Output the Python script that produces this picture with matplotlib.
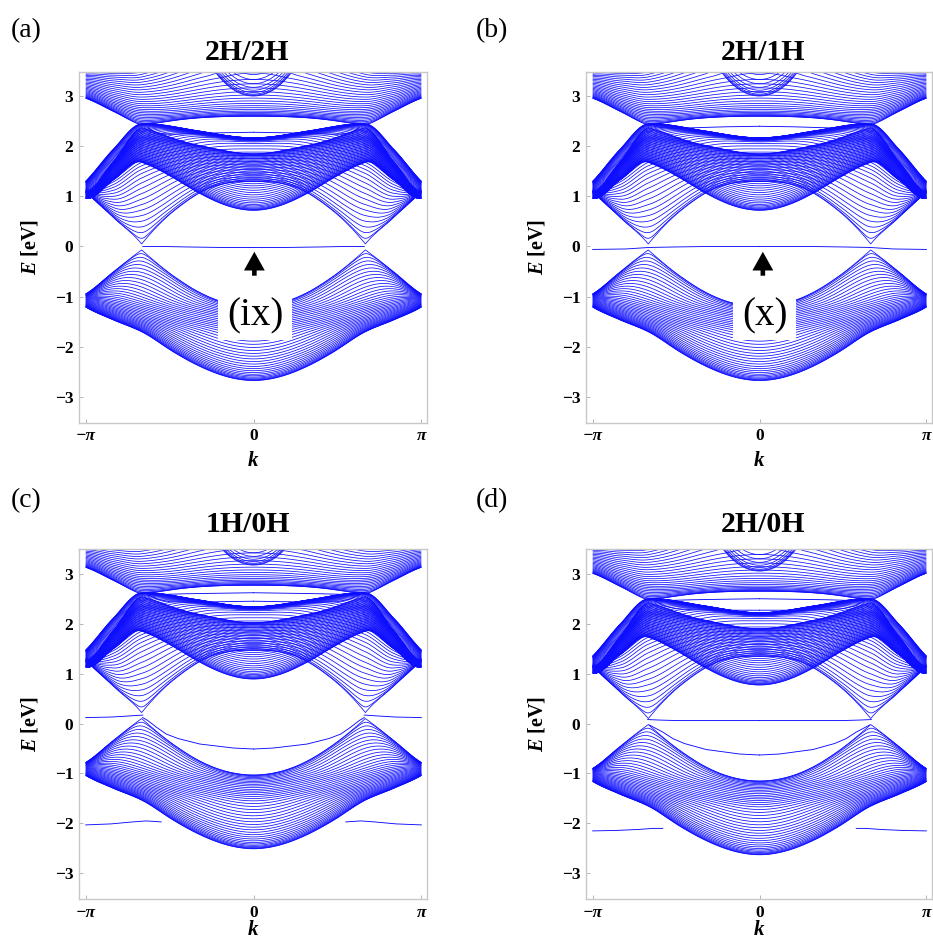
import numpy as np
import matplotlib
matplotlib.use("Agg")
import matplotlib.pyplot as plt
from matplotlib.collections import LineCollection
from matplotlib.patches import Rectangle

plt.rcParams["font.family"] = ["Liberation Serif", "DejaVu Serif"]
plt.rcParams["mathtext.fontset"] = "custom"
plt.rcParams["mathtext.it"] = "Liberation Serif:italic:bold"
plt.rcParams["mathtext.rm"] = "Liberation Serif:bold"
plt.rcParams["mathtext.bf"] = "Liberation Serif:bold"

# ---------------------------------------------------------------------------
# Bulk sub-band sheets of the ribbon (eV, for the 2H/2H ribbon).
# Each sheet is E(k, q) = P(|f|) + G(k), where |f| is the honeycomb structure
# factor at ribbon momentum k and transverse momentum q.
#   P_NODES: P at |f| = 0, 0.5, 1, 1.5, 2, 2.5, 3
#   G_NODES: G at k/pi = 0, 1/3, 2/3, 5/6, 1
#   SPREAD : fan-out of the sub-bands at the zone edge k = pi
# ---------------------------------------------------------------------------
u_nodes = [0.0, 0.5, 1.0, 1.5, 2.0, 2.5, 3.0]
k_nodes = [0.0, 1 / 3, 2 / 3, 5 / 6, 1.0]

sheet_names = ["pi_valence", "pi_conduction", "dome", "top"]
P_NODES = [
    [-0.26, -0.75, -1.20, -1.45, -1.70, -2.15, -2.68],
    [0.00, 0.75, 1.45, 1.90, 2.25, 2.30, 2.32],
    [2.10, 1.95, 1.85, 1.70, 1.50, 1.20, 0.72],
    [2.30, 2.45, 2.60, 2.85, 3.30, 4.20, 3.00],
]
G_NODES = [
    [0.00, 0.08, 0.19, 0.23, 0.25],
    [-0.15, -0.05, 0.05, -0.15, -0.35],
    [0.00, 0.12, 0.27, -0.25, -0.77],
    [0.00, 0.05, 0.12, 0.25, 0.36],
]
SPREAD = [-0.13, 0.10, -0.06, 0.35]
n_modes = 42

# Panels
panel_tags = ["(a)", "(b)", "(c)", "(d)"]
panel_titles = ["2H/2H", "2H/1H", "1H/0H", "2H/0H"]
panel_shift = [0.0, 0.0, 0.17, 0.05]

# Edge states: k in units of pi (k >= 0, mirrored to k < 0) and energy in eV
edge_states = {
    "(a)": [
        ([0.0, 0.2, 0.4, 0.55, 0.66], [-0.02, -0.02, -0.01, 0.0, 0.0]),
        ([0.0, 0.2, 0.4, 0.5, 0.58, 0.63], [2.28, 2.27, 2.25, 2.24, 2.27, 2.37]),
    ],
    "(b)": [
        ([0.0, 0.3, 0.5, 0.66, 0.8, 1.0], [0.0, 0.0, -0.01, -0.02, -0.05, -0.06]),
        ([0.0, 0.2, 0.4, 0.5, 0.58, 0.63], [2.40, 2.39, 2.37, 2.36, 2.37, 2.40]),
    ],
    "(c)": [
        ([0.66, 0.75, 0.85, 1.0], [0.17, 0.15, 0.13, 0.12]),
        ([0.0, 0.12, 0.32, 0.45, 0.52, 0.576, 0.63, 0.66],
         [-0.51, -0.49, -0.41, -0.30, -0.21, -0.08, 0.06, 0.12]),
        ([0.55, 0.64, 0.72, 0.85, 1.0], [-1.97, -1.95, -1.97, -2.01, -2.03]),
        ([0.0, 0.2, 0.4, 0.5, 0.58, 0.63], [2.62, 2.61, 2.60, 2.59, 2.58, 2.58]),
        ([0.0, 0.2, 0.4, 0.5, 0.58, 0.63], [2.45, 2.44, 2.43, 2.44, 2.50, 2.58]),
        ([0.94, 1.0], [1.17, 1.16]),
    ],
    "(d)": [
        ([0.0, 0.3, 0.5, 0.6, 0.67], [0.06, 0.06, 0.06, 0.07, 0.08]),
        ([0.0, 0.12, 0.32, 0.45, 0.52, 0.58, 0.66],
         [-0.63, -0.61, -0.52, -0.40, -0.30, -0.17, -0.03]),
        ([0.58, 0.64, 0.72, 0.85, 1.0], [-2.10, -2.10, -2.12, -2.14, -2.15]),
        ([0.0, 0.2, 0.4, 0.5, 0.58, 0.63], [2.50, 2.49, 2.48, 2.47, 2.46, 2.47]),
        ([0.0, 0.2, 0.4, 0.5, 0.58, 0.63], [2.27, 2.27, 2.28, 2.30, 2.36, 2.47]),
        ([0.95, 1.0], [1.07, 1.06]),
    ],
}

# Arrow + label annotations (k in units of pi)
marker_labels = {"(a)": "(ix)", "(b)": "(x)"}
marker_k = {"(a)": 0.005, "(b)": 0.02}
marker_box = {"(a)": (-0.21, 0.23), "(b)": (-0.16, 0.22)}

BLUE = (0.05, 0.05, 1.0)


def pchip(xn, yn, x, flat_ends=False):
    """Monotone piecewise-cubic (Fritsch-Carlson) interpolation."""
    xn = np.asarray(xn, float)
    yn = np.asarray(yn, float)
    h = np.diff(xn)
    delta = np.diff(yn) / h
    d = np.zeros_like(yn)
    for i in range(1, len(xn) - 1):
        if delta[i - 1] * delta[i] > 0:
            w1 = 2 * h[i] + h[i - 1]
            w2 = h[i] + 2 * h[i - 1]
            d[i] = (w1 + w2) / (w1 / delta[i - 1] + w2 / delta[i])
    if not flat_ends:
        d[0] = delta[0]
        d[-1] = delta[-1]
    idx = np.clip(np.searchsorted(xn, x) - 1, 0, len(xn) - 2)
    t = (x - xn[idx]) / h[idx]
    h00 = 2 * t ** 3 - 3 * t ** 2 + 1
    h10 = t ** 3 - 2 * t ** 2 + t
    h01 = -2 * t ** 3 + 3 * t ** 2
    h11 = t ** 3 - t ** 2
    return (h00 * yn[idx] + h10 * h[idx] * d[idx]
            + h01 * yn[idx + 1] + h11 * h[idx] * d[idx + 1])


def sheet_lines(s, k, shift):
    """Sub-band curves of one bulk sheet projected onto the ribbon momentum."""
    q = (np.pi * np.arange(1, n_modes + 1) / n_modes)[:, None]
    kk = k[None, :]
    c = np.cos(kk / 2)
    u = np.sqrt(np.clip(1 + 4 * c ** 2 + 4 * c * np.cos(q), 0, 9))
    p = pchip(u_nodes, P_NODES[s], u)
    g = pchip(np.array(k_nodes) * np.pi, G_NODES[s], np.abs(kk), flat_ends=True)
    fan = SPREAD[s] * (1 + np.cos(q)) * np.sin(kk / 2) ** 2
    return p + g + fan + shift


W, H = 933, 946
frames_px = [(79, 71.7, 426.7, 422.7), (586, 71.7, 931.7, 422.7),
             (79, 549.3, 426.7, 899.3), (586, 549.3, 931.7, 899.3)]
tag_px = [(11, 31), (476, 31), (11, 501), (476, 501)]
title_px = [(247, 52), (763, 52), (248, 525), (763, 525)]
klabel_y = [-0.082, -0.082, -0.06, -0.06]

fig = plt.figure(figsize=(W / 100, H / 100), dpi=100)
k = np.linspace(-np.pi, np.pi, 721)

for i, tag in enumerate(panel_tags):
    x0, y0, x1, y1 = frames_px[i]
    ax = fig.add_axes([x0 / W, 1 - y1 / H, (x1 - x0) / W, (y1 - y0) / H])
    for s in range(len(sheet_names)):
        e = sheet_lines(s, k, panel_shift[i])
        segs = [np.column_stack([k, row]) for row in e]
        ax.add_collection(LineCollection(segs, colors=[BLUE], linewidths=0.55,
                                         zorder=2))
    for kp, ep in edge_states[tag]:
        kp = np.array(kp)
        ep = np.array(ep)
        ax.plot(kp * np.pi, ep, color=BLUE, lw=0.65, zorder=2)
        ax.plot(-kp * np.pi, ep, color=BLUE, lw=0.65, zorder=2)

    if tag in marker_labels:
        kb0, kb1 = marker_box[tag]
        ax.add_patch(Rectangle((kb0 * np.pi, -1.87), (kb1 - kb0) * np.pi, 0.94,
                               facecolor="white", edgecolor="none", zorder=3))
        ax.text(0.5 * (kb0 + kb1) * np.pi, -1.38, marker_labels[tag],
                ha="center", va="center", fontsize=28, zorder=4)
        km = marker_k[tag] * np.pi
        ax.annotate("", xy=(km, -0.05), xytext=(km, -0.64),
                    arrowprops=dict(arrowstyle="simple,head_length=0.9,head_width=1.0,tail_width=0.22",
                                    mutation_scale=15, color="black", lw=0),
                    zorder=4)

    ax.set_xlim(-1.04 * np.pi, 1.032 * np.pi)
    ax.set_ylim(-3.52, 3.49)
    ax.set_xticks([-np.pi, 0, np.pi])
    ax.set_xticklabels(["\u2212\u03c0", "0", "\u03c0"])
    for lab in ax.get_xticklabels():
        if "\u03c0" in lab.get_text():
            lab.set_fontstyle("italic")
    ax.set_yticks([-3, -2, -1, 0, 1, 2, 3])
    ax.set_yticklabels(["\u22123", "\u22122", "\u22121", "0", "1", "2", "3"])
    ax.tick_params(direction="in", length=3, width=0.6, color="#aaaaaa",
                   labelsize=12.5, pad=4)
    for lab in ax.get_xticklabels() + ax.get_yticklabels():
        lab.set_fontweight("bold")
    for sp in ax.spines.values():
        sp.set_color("#c8c8c8")
        sp.set_linewidth(1.0)
    ax.set_ylabel(r"$E$ [eV]", fontsize=14.5, fontweight="bold")
    ax.yaxis.set_label_coords(-0.112, 0.5)
    ax.set_xlabel(r"$k$", fontsize=15, fontweight="bold")
    ax.xaxis.set_label_coords(0.5, klabel_y[i])

    tx, ty = tag_px[i]
    fig.text(tx / W, 1 - ty / H, tag, ha="left", va="center", fontsize=20)
    hx, hy = title_px[i]
    fig.text(hx / W, 1 - hy / H, panel_titles[i], ha="center", va="center",
             fontsize=21.5, fontweight="bold")

fig.savefig("out.png", dpi=100)
